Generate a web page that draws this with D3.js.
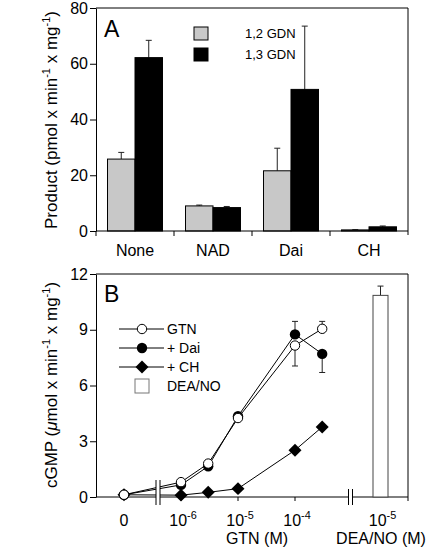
<!DOCTYPE html>
<html><head><meta charset="utf-8">
<script src="https://cdn.jsdelivr.net/npm/d3@7"></script>
<style>
html,body{margin:0;padding:0;background:#fff;}
svg{display:block;font-family:"Liberation Sans",Arial,Helvetica,sans-serif;}
</style></head>
<body><svg id="c" width="432" height="548"></svg>
<script>
// ---------- Panel A data ----------
const catsA = ["None", "NAD", "Dai", "CH"];
const seriesA = ["1,2 GDN", "1,3 GDN"];
const gdn12 = [25.8, 9.0, 21.6, 0.4];
const gdn12Err = [2.4, 0.3, 8.1, 0.1];
const gdn13 = [62.2, 8.4, 50.8, 1.5];
const gdn13Err = [6.2, 0.4, 22.7, 0.3];
const ticksA = [0, 20, 40, 60, 80];

// ---------- Panel B data ----------
const concB = [0, 1e-6, 3e-6, 1e-5, 1e-4, 3e-4]; // 0 = control
const gtn = [0.12, 0.8, 1.8, 4.25, 8.15, 9.05];
const gtnErr = [0, 0, 0, 0, -1.1, 0.4];
const dai = [0.12, 0.65, 1.65, 4.35, 8.75, 7.7];
const daiErr = [0, 0, 0, 0, 0.7, -1.0];
const ch = [0.12, 0.1, 0.25, 0.45, 2.52, 3.77];
const deaCats = ["1e-5"];
const deaNO = [10.85];
const deaNOErr = [0.5];
const ticksB = [0, 3, 6, 9, 12];
const xTicksB = [1e-6, 1e-5, 1e-4];
const legendB = ["GTN", "+ Dai", "+ CH", "DEA/NO"];

const svg = d3.select("#c");
const GRAY = "#c8c8c8";
const FS = 16;

function supText(sel, base, sup, size) {
  sel.append("tspan").text(base);
  sel.append("tspan").attr("font-size", size * 0.68).attr("dy", -size * 0.42).text(sup);
}

// =============== PANEL A ===============
const A = {l: 96, r: 408, t: 8, b: 231};
const yA = d3.scaleLinear().domain([0, 80]).range([A.b, A.t]);
const xA = d3.scaleBand().domain(catsA).range([A.l, A.r]).paddingInner(0.295).paddingOuter(0.1475);
const xSub = d3.scaleBand().domain(seriesA).range([0, xA.bandwidth()]);
const gA = svg.append("g");

gA.append("path").attr("d", `M${A.l},${A.t}H${A.r}V${A.b + 4}`).attr("fill", "none").attr("stroke", "#000");

const barsA = [];
catsA.forEach((c, i) => {
  barsA.push({cat: c, s: seriesA[0], v: gdn12[i], e: gdn12Err[i], fill: GRAY});
  barsA.push({cat: c, s: seriesA[1], v: gdn13[i], e: gdn13Err[i], fill: "#000"});
});
barsA.forEach(d => {
  const cx = xA(d.cat) + xSub(d.s) + xSub.bandwidth() / 2;
  gA.append("line").attr("x1", cx).attr("x2", cx).attr("y1", yA(d.v)).attr("y2", yA(d.v + d.e)).attr("stroke", "#222");
  gA.append("line").attr("x1", cx - 3).attr("x2", cx + 3).attr("y1", yA(d.v + d.e)).attr("y2", yA(d.v + d.e)).attr("stroke", "#222");
});
gA.selectAll("rect.bar").data(barsA).join("rect").attr("class", "bar")
  .attr("x", d => xA(d.cat) + xSub(d.s))
  .attr("y", d => yA(d.v))
  .attr("width", xSub.bandwidth())
  .attr("height", d => yA(0) - yA(d.v))
  .attr("fill", d => d.fill).attr("stroke", "#000").attr("stroke-width", 1);

const axA = gA.append("g").attr("transform", `translate(${A.l},0)`)
  .call(d3.axisLeft(yA).tickValues(ticksA).tickSize(6).tickSizeOuter(0).tickPadding(2));
axA.selectAll("text").attr("font-size", FS).attr("font-family", null).attr("fill", "#000");
axA.selectAll("line,path").attr("stroke", "#000");
gA.append("line").attr("x1", A.l).attr("x2", A.r).attr("y1", A.b).attr("y2", A.b).attr("stroke", "#000");
catsA.forEach(c => {
  const bx = xA(c) - (xA.step() - xA.bandwidth()) / 2;
  gA.append("line").attr("x1", bx).attr("x2", bx).attr("y1", A.b).attr("y2", A.b + 5).attr("stroke", "#000");
  gA.append("text").attr("x", xA(c) + xA.bandwidth() / 2).attr("y", A.b + 25).attr("text-anchor", "middle").attr("font-size", FS).text(c);
});
gA.append("text").attr("x", 104).attr("y", 37).attr("font-size", 23).text("A");
seriesA.forEach((s, i) => {
  gA.append("rect").attr("x", 194).attr("y", 27 + i * 21).attr("width", 14).attr("height", 13)
    .attr("fill", i === 0 ? GRAY : "#000").attr("stroke", "#000");
  gA.append("text").attr("x", 245).attr("y", 38 + i * 21).attr("font-size", 13).text(s);
});
const labA = gA.append("text").attr("transform", "translate(57,120) rotate(-90)").attr("text-anchor", "middle").attr("font-size", 17);
labA.append("tspan").text("Product (pmol x min");
labA.append("tspan").attr("font-size", 11).attr("dy", -7).text("-1");
labA.append("tspan").attr("dy", 7).text(" x mg");
labA.append("tspan").attr("font-size", 11).attr("dy", -7).text("-1");
labA.append("tspan").attr("dy", 7).text(")");

// =============== PANEL B ===============
const B = {l: 96, r: 408, t: 274, b: 497};
const yB = d3.scaleLinear().domain([0, 12]).range([B.b, B.t]);
const xLog = d3.scaleLog().domain([1e-6, 1e-4]).range([181, 295]);
const xB = c => c === 0 ? xLog(1e-7) : xLog(c);
const xDea = d3.scaleBand().domain(deaCats).range([373, 388]);
const gB = svg.append("g");

gB.append("path").attr("d", `M${B.l},${B.t}H${B.r}V${B.b + 4}`).attr("fill", "none").attr("stroke", "#000");
const axB = gB.append("g").attr("transform", `translate(${B.l},0)`)
  .call(d3.axisLeft(yB).tickValues(ticksB).tickSize(6).tickSizeOuter(0).tickPadding(2));
axB.selectAll("text").attr("font-size", FS).attr("font-family", null).attr("fill", "#000");
axB.selectAll("line,path").attr("stroke", "#000");
gB.append("line").attr("x1", B.l).attr("x2", B.r).attr("y1", B.b).attr("y2", B.b).attr("stroke", "#000");
xTicksB.forEach(t => {
  gB.append("line").attr("x1", xLog(t)).attr("x2", xLog(t)).attr("y1", B.b).attr("y2", B.b + 4).attr("stroke", "#000");
});

deaCats.forEach((c, i) => {
  const cx = xDea(c) + xDea.bandwidth() / 2;
  gB.append("line").attr("x1", cx).attr("x2", cx).attr("y1", yB(deaNO[i])).attr("y2", yB(deaNO[i] + deaNOErr[i])).attr("stroke", "#222");
  gB.append("line").attr("x1", cx - 3).attr("x2", cx + 3).attr("y1", yB(deaNO[i] + deaNOErr[i])).attr("y2", yB(deaNO[i] + deaNOErr[i])).attr("stroke", "#222");
  gB.append("rect").attr("x", xDea(c)).attr("y", yB(deaNO[i])).attr("width", xDea.bandwidth())
    .attr("height", yB(0) - yB(deaNO[i])).attr("fill", "#fff").attr("stroke", "#444");
});

const line = d3.line().x(d => xB(d[0])).y(d => yB(d[1]));
const mk = arr => concB.map((c, i) => [c, arr[i]]);
function errB(vals, errs) {
  concB.forEach((c, i) => {
    if (!errs[i]) return;
    const x = xB(c), y0 = yB(vals[i]), y1 = yB(vals[i] + errs[i]);
    gB.append("line").attr("x1", x).attr("x2", x).attr("y1", y0).attr("y2", y1).attr("stroke", "#222");
    gB.append("line").attr("x1", x - 3).attr("x2", x + 3).attr("y1", y1).attr("y2", y1).attr("stroke", "#222");
  });
}
errB(gtn, gtnErr); errB(dai, daiErr);

gB.append("path").datum(mk(ch)).attr("d", line).attr("fill", "none").attr("stroke", "#000");
gB.append("path").datum(mk(dai)).attr("d", line).attr("fill", "none").attr("stroke", "#000");
gB.append("path").datum(mk(gtn)).attr("d", line).attr("fill", "none").attr("stroke", "#000");

const diamond = d3.symbol().type(d3.symbolSquare).size(84);
gB.selectAll("path.ch").data(mk(ch)).join("path").attr("class", "ch").attr("d", diamond)
  .attr("transform", d => `translate(${xB(d[0])},${yB(d[1])}) rotate(45)`).attr("fill", "#000");
gB.selectAll("circle.dai").data(mk(dai)).join("circle").attr("class", "dai")
  .attr("cx", d => xB(d[0])).attr("cy", d => yB(d[1])).attr("r", 5.2).attr("fill", "#000");
gB.selectAll("circle.gtn").data(mk(gtn)).join("circle").attr("class", "gtn")
  .attr("cx", d => xB(d[0])).attr("cy", d => yB(d[1])).attr("r", 4.7).attr("fill", "#fff").attr("stroke", "#000");

function brk(x1, x2, y1, y2) {
  gB.append("rect").attr("x", x1).attr("y", y1).attr("width", x2 - x1).attr("height", y2 - y1).attr("fill", "#fff");
  [x1, x2].forEach(x => gB.append("line").attr("x1", x).attr("x2", x).attr("y1", y1).attr("y2", y2).attr("stroke", "#000"));
}
brk(156, 160, 480, 505);
brk(348.5, 352.5, 489, 505);

gB.append("text").attr("x", xB(0)).attr("y", 526).attr("text-anchor", "middle").attr("font-size", FS).text("0");
xTicksB.forEach(t => {
  const tx = gB.append("text").attr("x", xLog(t) + 2).attr("y", 526).attr("text-anchor", "middle").attr("font-size", FS);
  supText(tx, "10", "-" + Math.round(-Math.log10(t)), FS);
});
deaCats.forEach(c => {
  const tx = gB.append("text").attr("x", xDea(c) + xDea.bandwidth() / 2 + 2).attr("y", 526).attr("text-anchor", "middle").attr("font-size", FS);
  supText(tx, "10", "-5", FS);
});
gB.append("text").attr("x", 257).attr("y", 544).attr("text-anchor", "middle").attr("font-size", FS).text("GTN (M)");
gB.append("text").attr("x", 381).attr("y", 544).attr("text-anchor", "middle").attr("font-size", FS).text("DEA/NO (M)");

gB.append("text").attr("x", 104).attr("y", 302).attr("font-size", 23).text("B");

const ly = i => 329 + i * 19;
legendB.forEach((s, i) => {
  const y = ly(i);
  if (i < 3) gB.append("line").attr("x1", 119).attr("x2", 164).attr("y1", y).attr("y2", y).attr("stroke", "#000");
  if (i === 0) gB.append("circle").attr("cx", 142).attr("cy", y).attr("r", 4.7).attr("fill", "#fff").attr("stroke", "#000");
  if (i === 1) gB.append("circle").attr("cx", 142).attr("cy", y).attr("r", 5.2).attr("fill", "#000");
  if (i === 2) gB.append("path").attr("d", diamond).attr("transform", `translate(142,${y}) rotate(45)`).attr("fill", "#000");
  if (i === 3) gB.append("rect").attr("x", 135).attr("y", y - 7).attr("width", 14).attr("height", 14).attr("fill", "#fff").attr("stroke", "#777");
  gB.append("text").attr("x", 167).attr("y", y + 5).attr("font-size", 14).text(s);
});

const labB = gB.append("text").attr("transform", "translate(57,385) rotate(-90)").attr("text-anchor", "middle").attr("font-size", 17);
labB.append("tspan").text("cGMP (");
labB.append("tspan").attr("font-style", "italic").text("\u03bc");
labB.append("tspan").text("mol x min");
labB.append("tspan").attr("font-size", 11).attr("dy", -7).text("-1");
labB.append("tspan").attr("dy", 7).text(" x mg");
labB.append("tspan").attr("font-size", 11).attr("dy", -7).text("-1");
labB.append("tspan").attr("dy", 7).text(")");
</script></body></html>
